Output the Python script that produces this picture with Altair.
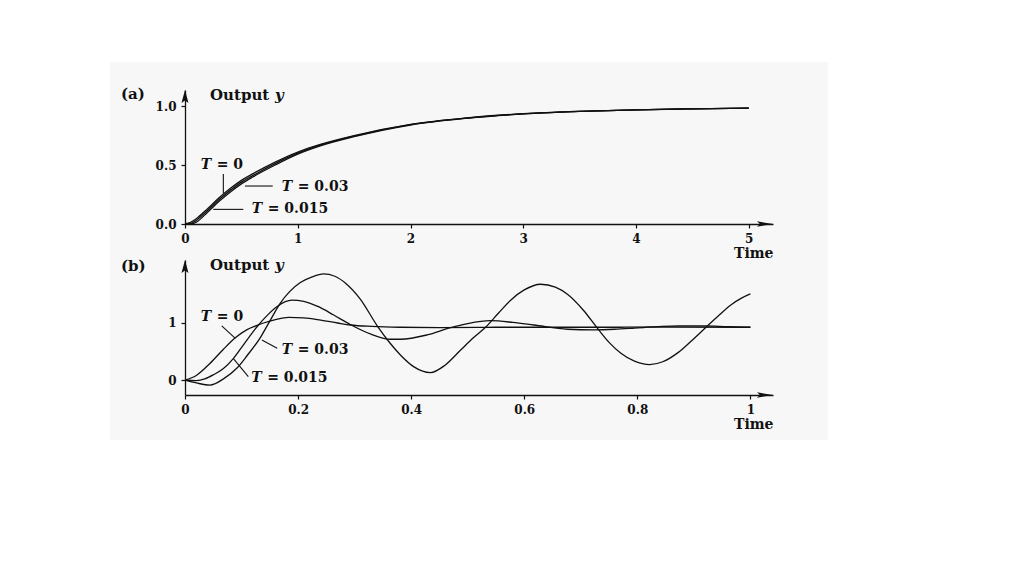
import altair as alt
import pandas as pd

# ---------------- Panel (a): slow response, t in [0, 5] ----------------
ta = [0, 0.05, 0.1, 0.2, 0.3, 0.4, 0.5, 0.6, 0.8, 1.0, 1.2, 1.5, 2.0, 2.5, 3.0, 3.5, 4.0, 4.5, 5.0]
ya_T0 = [0, 0.015, 0.045, 0.13, 0.22, 0.30, 0.37, 0.425, 0.525, 0.61, 0.675, 0.75, 0.845, 0.90, 0.935, 0.955, 0.968, 0.976, 0.982]
ya_T015 = [0, 0.005, 0.03, 0.115, 0.205, 0.285, 0.355, 0.41, 0.512, 0.60, 0.668, 0.745, 0.842, 0.898, 0.934, 0.955, 0.968, 0.976, 0.982]
ya_T03 = [0, 0.0, 0.015, 0.10, 0.19, 0.27, 0.34, 0.398, 0.50, 0.592, 0.662, 0.74, 0.839, 0.896, 0.933, 0.954, 0.968, 0.976, 0.982]

# ---------------- Panel (b): fast response, t in [0, 1] ----------------
tb_T0 = [0, 0.02, 0.044, 0.068, 0.089, 0.109, 0.125, 0.139, 0.16, 0.183, 0.21, 0.24, 0.27, 0.293, 0.33, 0.38, 0.45, 0.55, 0.65, 0.75, 0.85, 1.0]
yb_T0 = [0, 0.08, 0.29, 0.54, 0.74, 0.88, 0.95, 1.0, 1.06, 1.10, 1.09, 1.05, 1.0, 0.965, 0.94, 0.925, 0.92, 0.925, 0.925, 0.925, 0.93, 0.925]

tb_T015 = [0, 0.02, 0.035, 0.05, 0.068, 0.085, 0.105, 0.127, 0.145, 0.163, 0.189, 0.21, 0.235, 0.263, 0.293, 0.33, 0.363, 0.381, 0.428, 0.47, 0.50, 0.54, 0.58, 0.617, 0.677, 0.724, 0.76, 0.795, 0.835, 0.872, 0.92, 0.96, 1.0]
yb_T015 = [0, -0.01, 0.02, 0.09, 0.20, 0.37, 0.64, 0.93, 1.13, 1.29, 1.40, 1.38, 1.29, 1.14, 0.97, 0.80, 0.715, 0.715, 0.79, 0.92, 0.99, 1.04, 1.01, 0.965, 0.89, 0.88, 0.89, 0.91, 0.935, 0.95, 0.95, 0.935, 0.925]

tb_T03 = [0, 0.02, 0.044, 0.068, 0.092, 0.11, 0.133, 0.151, 0.168, 0.185, 0.204, 0.225, 0.245, 0.265, 0.285, 0.31, 0.34, 0.36, 0.381, 0.405, 0.434, 0.46, 0.488, 0.51, 0.532, 0.555, 0.576, 0.60, 0.629, 0.655, 0.677, 0.705, 0.73, 0.75, 0.771, 0.795, 0.822, 0.845, 0.872, 0.895, 0.922, 0.945, 0.966, 0.985, 1.0]
yb_T03 = [0, -0.05, -0.09, 0.02, 0.21, 0.43, 0.74, 1.05, 1.34, 1.55, 1.71, 1.81, 1.86, 1.82, 1.69, 1.42, 0.95, 0.68, 0.44, 0.23, 0.13, 0.26, 0.53, 0.74, 0.93, 1.18, 1.40, 1.58, 1.68, 1.63, 1.50, 1.22, 0.90, 0.66, 0.47, 0.33, 0.27, 0.32, 0.48, 0.68, 0.93, 1.14, 1.32, 1.44, 1.51]

# ---------------- Annotations ----------------
series_labels = ["= 0", "= 0.03", "= 0.015"]
lab_a_t = [0.139, 0.858, 0.592]
lab_a_y = [0.50, 0.316, 0.124]
lead_a_t1 = [0.34, 0.532, 0.251]
lead_a_y1 = [0.424, 0.322, 0.124]
lead_a_t2 = [0.34, 0.778, 0.517]
lead_a_y2 = [0.26, 0.322, 0.124]

lab_b_t = [0.028, 0.171, 0.117]
lab_b_y = [1.11, 0.526, 0.03]
lead_b_t1 = [0.065, 0.136, 0.086]
lead_b_y1 = [0.95, 0.70, 0.37]
lead_b_t2 = [0.089, 0.163, 0.112]
lead_b_y2 = [0.73, 0.556, 0.058]

xa_ticks = [0, 1, 2, 3, 4, 5]
ya_ticks = [0, 0.5, 1.0]
xb_ticks = [0, 0.2, 0.4, 0.6, 0.8, 1]
yb_ticks = [0, 1]

FONT = "DejaVu Serif"
INK = "#111111"
W = 588


def long_df(pairs):
    frames = []
    for name, t, y in pairs:
        frames.append(pd.DataFrame({"t": t, "y": y, "series": name}))
    return pd.concat(frames, ignore_index=True)


def panel(tag, lines, xmax, ydom, height, xticks, xfmt, yticks, yfmt,
          lab_t, lab_y, l_t1, l_y1, l_t2, l_y2, tag_y, with_bg):
    xs = alt.Scale(domain=[0, xmax], nice=False, zero=False)
    ys = alt.Scale(domain=ydom, nice=False, zero=False)
    xax = alt.Axis(values=xticks, format=xfmt, title="Time", titleX=W, titleY=33,
                   titleAlign="right", titleBaseline="alphabetic", titleFont=FONT,
                   titleFontWeight="bold", titleFontSize=14, titleColor=INK,
                   labelFlush=False, zindex=2)
    yax = alt.Axis(values=yticks, format=yfmt, title=None, zindex=2)

    df = long_df(lines)
    line = alt.Chart(df).mark_line(color=INK, strokeWidth=1.3, interpolate="monotone").encode(
        x=alt.X("t:Q", scale=xs, axis=xax),
        y=alt.Y("y:Q", scale=ys, axis=yax),
        detail="series:N",
    )

    lead_df = pd.DataFrame({"t": l_t1, "y": l_y1, "t2": l_t2, "y2": l_y2})
    leaders = alt.Chart(lead_df).mark_rule(color=INK, strokeWidth=1.1).encode(
        x=alt.X("t:Q", scale=xs, axis=xax), y=alt.Y("y:Q", scale=ys, axis=yax),
        x2="t2:Q", y2="y2:Q",
    )

    lab_df = pd.DataFrame({"t": lab_t, "y": lab_y, "rest": series_labels, "T": ["T"] * 3})
    t_text = alt.Chart(lab_df).mark_text(align="left", baseline="middle", font=FONT,
                                         fontSize=14, fontWeight="bold", fontStyle="italic",
                                         color=INK).encode(
        x=alt.X("t:Q", scale=xs, axis=xax), y=alt.Y("y:Q", scale=ys, axis=yax), text="T:N")
    rest_text = alt.Chart(lab_df).mark_text(align="left", baseline="middle", font=FONT,
                                            fontSize=14, fontWeight="bold", dx=16,
                                            color=INK).encode(
        x=alt.X("t:Q", scale=xs, axis=xax), y=alt.Y("y:Q", scale=ys, axis=yax), text="rest:N")

    arr_up = pd.DataFrame({"t": [0.0], "y": [ydom[1]]})
    arr_rt = pd.DataFrame({"t": [xmax], "y": [ydom[0]]})
    up = alt.Chart(arr_up).mark_point(shape="M0,0L-0.27,1L0,0.8L0.27,1Z", size=676,
                                      filled=True, color=INK, opacity=1).encode(
        x=alt.X("t:Q", scale=xs, axis=xax), y=alt.Y("y:Q", scale=ys, axis=yax))
    rt = alt.Chart(arr_rt).mark_point(shape="M0,0L-1,-0.17L-0.82,0L-1,0.17Z", size=1024,
                                      filled=True, color=INK, opacity=1).encode(
        x=alt.X("t:Q", scale=xs, axis=xax), y=alt.Y("y:Q", scale=ys, axis=yax))

    one = pd.DataFrame({"k": [0]})
    tag_text = alt.Chart(one).mark_text(align="left", baseline="alphabetic", font=FONT,
                                        fontSize=15, fontWeight="bold", color=INK,
                                        text=tag).encode(x=alt.value(-64), y=alt.value(tag_y))
    out_text = alt.Chart(one).mark_text(align="left", baseline="alphabetic", font=FONT,
                                        fontSize=15, fontWeight="bold", color=INK,
                                        text="Output").encode(x=alt.value(25), y=alt.value(10))
    y_text = alt.Chart(one).mark_text(align="left", baseline="alphabetic", font=FONT,
                                      fontSize=15, fontWeight="bold", fontStyle="italic",
                                      color=INK, text="y").encode(x=alt.value(90), y=alt.value(10))

    layers = [line, leaders, t_text, rest_text, up, rt, tag_text, out_text, y_text]
    if with_bg:
        bg = alt.Chart(one).mark_rect(color="#f7f7f7").encode(
            x=alt.value(-75), x2=alt.value(643), y=alt.value(-28), y2=alt.value(350))
        layers = [bg] + layers
    return alt.layer(*layers).properties(width=W, height=height)


pa = panel("(a)", [("T0", ta, ya_T0), ("T015", ta, ya_T015), ("T03", ta, ya_T03)],
           5.215, [0, 1.136], 134, xa_ticks, "d", ya_ticks, ".1f",
           lab_a_t, lab_a_y, lead_a_t1, lead_a_y1, lead_a_t2, lead_a_y2, 9, True)
pb = panel("(b)", [("T0", tb_T0, yb_T0), ("T015", tb_T015, yb_T015), ("T03", tb_T03, yb_T03)],
           1.040, [-0.263, 2.105], 135, xb_ticks, "~g", yb_ticks, "d",
           lab_b_t, lab_b_y, lead_b_t1, lead_b_y1, lead_b_t2, lead_b_y2, 11, False)

chart = alt.vconcat(pa, pb, spacing=36, bounds="flush").properties(
    padding={"left": 102, "top": 54, "right": 5, "bottom": 5},
    background="white",
).configure_view(stroke=None).configure_axis(
    grid=False, domainColor=INK, domainWidth=1.3, tickColor=INK, tickWidth=1.2,
    tickSize=4, labelFont=FONT, labelFontWeight="bold", labelFontSize=12,
    labelColor=INK, labelPadding=5,
)

chart.save("out.html", embed_options={"renderer": "svg", "actions": False})
